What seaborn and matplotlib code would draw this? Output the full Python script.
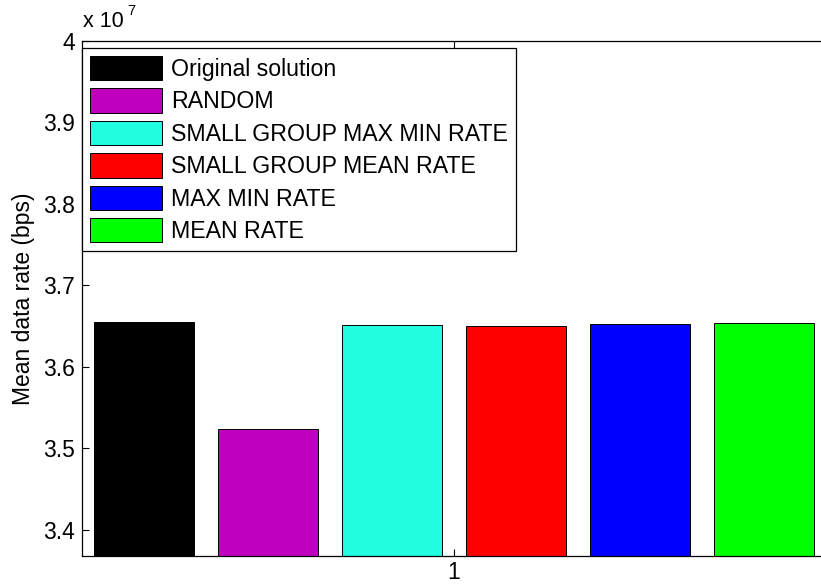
import matplotlib
matplotlib.use("Agg")
import matplotlib.pyplot as plt
import pandas as pd
import seaborn as sns

# Mean data rate per allocation method (bps)
methods = [
    "Original solution",
    "RANDOM",
    "SMALL GROUP MAX MIN RATE",
    "SMALL GROUP MEAN RATE",
    "MAX MIN RATE",
    "MEAN RATE",
]
rates = [3.6551e7, 3.5237e7, 3.6507e7, 3.6498e7, 3.6526e7, 3.6539e7]
colors = ["#000000", "#BF00BF", "#22FFE0", "#FF0000", "#0000FF", "#00FF00"]
group = ["1"] * len(methods)

ytick_values = [3.4e7, 3.5e7, 3.6e7, 3.7e7, 3.8e7, 3.9e7, 4.0e7]
ytick_labels = ["3.4", "3.5", "3.6", "3.7", "3.8", "3.9", "4"]
y_limits = (3.368e7, 4.0e7)

df = pd.DataFrame({"group": group, "method": methods, "rate": rates})

sns.set_theme(style="ticks")
plt.rcParams["font.family"] = ["Liberation Sans", "DejaVu Sans"]
plt.rcParams["text.color"] = "black"
plt.rcParams["axes.labelcolor"] = "black"

fig = plt.figure(figsize=(8.21, 5.87), dpi=100)
ax = fig.add_axes([0.0999, 0.0528, 0.9062, 0.8782])

sns.barplot(
    data=df, x="group", y="rate", hue="method", hue_order=methods,
    palette=colors, saturation=1, width=0.8, gap=0.2, errorbar=None,
    edgecolor="black", linewidth=0.7, ax=ax,
)

ax.set_xlim(-0.4, 0.4)
ax.set_ylim(*y_limits)
ax.set_yticks(ytick_values)
ax.set_yticklabels(ytick_labels)
ax.set_xlabel("")
ax.set_ylabel("Mean data rate (bps)", fontsize=16.5, labelpad=6)

for side in ["left", "bottom", "top", "right"]:
    ax.spines[side].set_visible(True)
    ax.spines[side].set_color("black")
    ax.spines[side].set_linewidth(0.9)

ax.tick_params(axis="both", direction="in", length=5, width=0.8,
               labelsize=16.5, colors="black", top=True, right=False)
ax.tick_params(axis="y", pad=5)
ax.tick_params(axis="x", pad=3.5)

# Exponent label above the y axis
ax.annotate("x 10", xy=(0, 1), xycoords="axes fraction",
            xytext=(1, 9), textcoords="offset pixels",
            fontsize=15.5, ha="left", va="bottom")
ax.annotate("7", xy=(0, 1), xycoords="axes fraction",
            xytext=(45, 23), textcoords="offset pixels",
            fontsize=10.5, ha="left", va="bottom")

old = ax.get_legend()
if old is not None:
    old.remove()
handles, labels = ax.get_legend_handles_labels()
leg = ax.legend(
    handles, labels, loc="upper left", bbox_to_anchor=(0.0, 0.9855),
    borderaxespad=0.0, fontsize=16.7, frameon=True, fancybox=False,
    framealpha=1.0, edgecolor="black", handlelength=3.1,
    handleheight=1.235, handletextpad=0.38, labelspacing=0.32,
    borderpad=0.35,
)
leg.get_frame().set_linewidth(0.9)

fig.savefig("out.png", dpi=100)
